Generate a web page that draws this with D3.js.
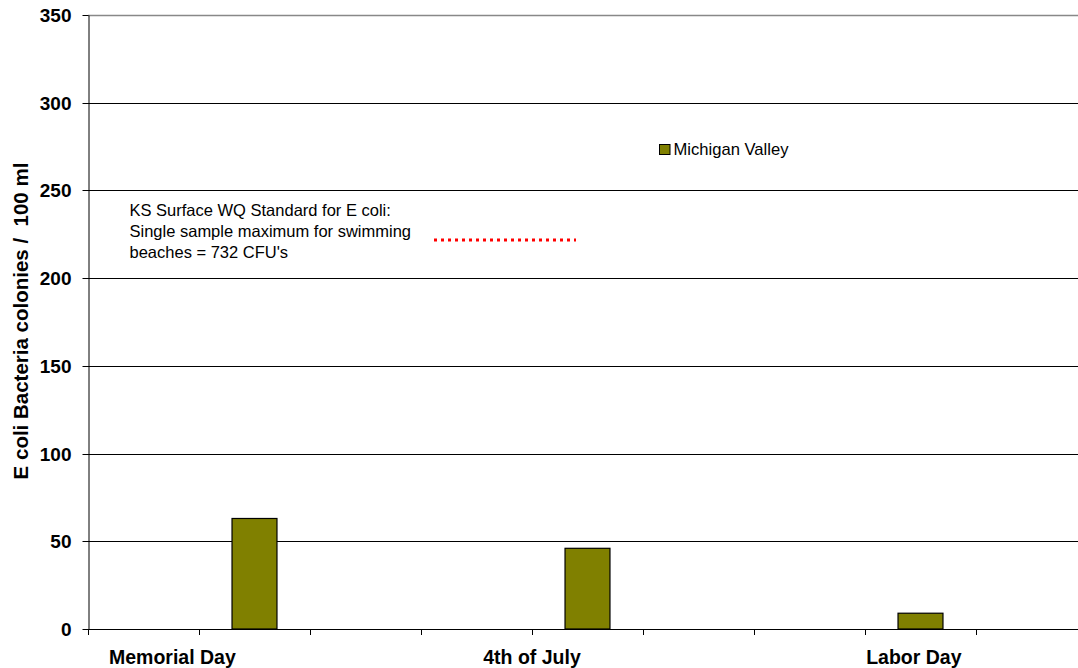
<!DOCTYPE html>
<html>
<head>
<meta charset="utf-8">
<script src="https://cdn.jsdelivr.net/npm/d3@7/dist/d3.min.js"></script>
<style>
  html, body { margin: 0; padding: 0; background: #fff; }
  svg { display: block; font-family: "Liberation Sans", Arial, sans-serif; }
</style>
</head>
<body>
<svg id="chart" width="1078" height="668"></svg>
<script>
// Sampling slots along the season (9 slots, three holiday samples)
const slots = ["s1", "s2", "s3", "s4", "s5", "s6", "s7", "s8", "s9"];
// Michigan Valley E. coli counts (colonies / 100 ml) by slot; null = no sample
const michiganValley = [null, 63, null, null, 46, null, null, 9, null];
// Holiday labels and the slot position (in slot units) they sit under
const holidayLabels = ["Memorial Day", "4th of July", "Labor Day"];
const holidayAt = [0.76, 4.0, 7.44];
const yTicks = [0, 50, 100, 150, 200, 250, 300, 350];
const seriesName = "Michigan Valley";
const standardNote = ["KS Surface WQ Standard for E coli:", "Single sample maximum for swimming", "beaches = 732 CFU's"];

const svg = d3.select("#chart");
const plotLeft = 88, plotTop = 15, plotBottom = 629, plotRight = 1087;

const x = d3.scaleBand().domain(slots).range([plotLeft, plotRight]).paddingInner(0).paddingOuter(0);
const xPos = d3.scaleLinear().domain([0, slots.length]).range([plotLeft, plotRight]);
const y = d3.scaleLinear().domain([0, 350]).range([plotBottom, plotTop]);

// horizontal gridlines
svg.append("g").selectAll("line").data(yTicks.filter(d => d > 0)).join("line")
  .attr("x1", plotLeft).attr("x2", plotRight)
  .attr("y1", d => Math.round(y(d)) + 0.5).attr("y2", d => Math.round(y(d)) + 0.5)
  .attr("stroke", d => d === 350 ? "#888" : "#000")
  .attr("stroke-width", d => d === 350 ? 1.6 : 1);

// y axis
const yAxis = d3.axisLeft(y).tickValues(yTicks).tickSize(6).tickSizeOuter(0).tickPadding(11);
const gy = svg.append("g").attr("transform", `translate(${plotLeft + 0.5},0)`).call(yAxis);
gy.selectAll("path").attr("stroke", "#000");
gy.selectAll(".tick line").attr("stroke", "#000");
gy.selectAll(".tick text").attr("font-size", 19).attr("font-weight", "bold")
  .attr("fill", "#000").attr("font-family", "Liberation Sans, Arial, sans-serif");
gy.selectAll(".tick").attr("transform", d => `translate(0,${Math.round(y(d)) + 0.5})`);

// x axis baseline and slot boundary ticks
const gx = svg.append("g");
gx.append("line").attr("x1", plotLeft).attr("x2", plotRight)
  .attr("y1", plotBottom + 0.5).attr("y2", plotBottom + 0.5).attr("stroke", "#000");
gx.selectAll("line.tk").data(d3.range(slots.length + 1)).join("line").attr("class", "tk")
  .attr("x1", d => Math.round(xPos(d)) + 0.5).attr("x2", d => Math.round(xPos(d)) + 0.5)
  .attr("y1", plotBottom).attr("y2", plotBottom + 6).attr("stroke", "#000");
gx.selectAll("text").data(holidayLabels).join("text")
  .attr("x", (d, i) => xPos(holidayAt[i])).attr("y", 664)
  .attr("text-anchor", "middle").attr("font-size", 19.5).attr("font-weight", "bold")
  .text(d => d);

// bars
const barW = x.bandwidth() * 0.405;
svg.append("g").selectAll("rect")
  .data(slots.map((s, i) => ({ s, v: michiganValley[i] })).filter(d => d.v != null))
  .join("rect")
  .attr("x", d => x(d.s) + (x.bandwidth() - barW) / 2)
  .attr("y", d => y(d.v))
  .attr("width", barW)
  .attr("height", d => y(0) - y(d.v))
  .attr("fill", "#808000").attr("stroke", "#000").attr("stroke-width", 1.2);

// y axis title
svg.append("text")
  .attr("transform", "translate(27.5,321) rotate(-90)")
  .attr("text-anchor", "middle").attr("font-size", 20.5).attr("font-weight", "bold")
  .style("white-space", "pre")
  .text("E coli Bacteria colonies /  100 ml");

// legend
const lg = svg.append("g").attr("transform", "translate(659,144)");
lg.append("rect").attr("x", 0.5).attr("y", 0.5).attr("width", 10.5).attr("height", 10)
  .attr("fill", "#808000").attr("stroke", "#000");
lg.append("text").attr("x", 14.5).attr("y", 10.5).attr("font-size", 16.6).text(seriesName);

// standard note with its dotted key line
svg.append("g").selectAll("text").data(standardNote).join("text")
  .attr("x", 129.5).attr("y", (d, i) => 215.7 + i * 21.3)
  .attr("font-size", 16.5).text(d => d);
svg.append("line").attr("x1", 434).attr("x2", 576).attr("y1", 240).attr("y2", 240)
  .attr("stroke", "#ff0000").attr("stroke-width", 3).attr("stroke-dasharray", "3,4");
</script>
</body>
</html>
